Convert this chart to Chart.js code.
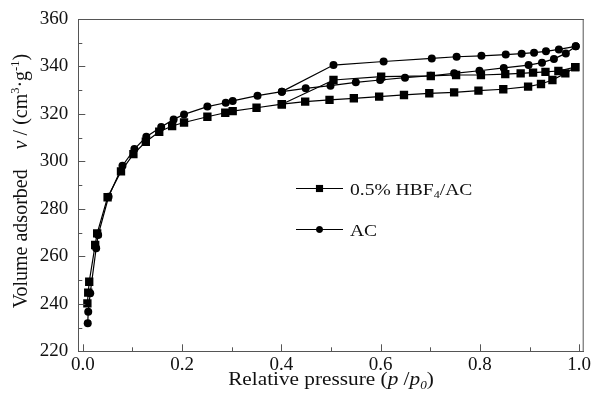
<!DOCTYPE html>
<html><head><meta charset="utf-8">
<script src="https://cdn.jsdelivr.net/npm/chart.js@4.4.1/dist/chart.umd.min.js"></script>
<style>html,body{margin:0;padding:0;background:#fff;}#wrap{width:594px;height:404px;}</style>
</head><body><div id="wrap"><canvas id="c" width="594" height="404"></canvas></div>
<script>
// ---- data ----
const hbfAdsP = [0.0093,0.011,0.013,0.025,0.029,0.050,0.077,0.102,0.127,0.154,0.180,0.204,0.251,0.287,0.302,0.350,0.401,0.448,0.497,0.546,0.597,0.647,0.698,0.748,0.797,0.847,0.897,0.923,0.946,0.972,0.992];
const hbfAdsV = [240.2,244.7,249.3,264.8,269.7,284.9,295.8,303.1,308.3,312.5,314.9,316.4,318.8,320.5,321.2,322.6,324.1,325.2,325.9,326.6,327.3,328.0,328.7,329.1,329.8,330.4,331.5,332.6,334.3,337.1,339.7];
const hbfDesP = [0.992,0.958,0.932,0.907,0.882,0.851,0.802,0.752,0.701,0.601,0.505,0.401];
const hbfDesV = [339.7,338.1,337.7,337.4,337.1,336.8,336.4,336.4,336.0,335.7,334.3,324.1];
const acAdsP = [0.010,0.011,0.015,0.027,0.031,0.052,0.080,0.104,0.128,0.158,0.183,0.204,0.251,0.288,0.302,0.352,0.401,0.449,0.499,0.550,0.599,0.649,0.701,0.748,0.799,0.848,0.898,0.925,0.949,0.973,0.993];
const acAdsV = [231.8,236.7,244.5,263.4,269.0,285.1,298.2,305.2,310.4,314.5,317.7,319.8,323.1,324.7,325.5,327.7,329.4,330.8,331.9,333.3,334.3,335.3,336.1,337.1,338.2,339.4,340.6,341.6,343.2,345.5,348.5];
const acDesP = [0.993,0.959,0.933,0.909,0.884,0.852,0.803,0.753,0.703,0.606,0.505,0.401];
const acDesV = [348.5,347.2,346.4,345.8,345.4,345.0,344.5,344.1,343.4,342.1,340.6,329.4];
const xTicks = [0.0,0.2,0.4,0.6,0.8,1.0];
const yTicks = [220,240,260,280,300,320,340,360];
const seriesNames = ['0.5% HBF4/AC','AC'];

const FONT = '"Liberation Serif","Times New Roman",serif';
const SX = 1.15;
function pts(p,v){return p.map((x,i)=>({x:x,y:v[i]}));}

function richWidth(ctx,segs,size){
  let t=0;
  segs.forEach(s=>{const fs=(s.sub||s.sup)?size*0.62:size;ctx.font=(s.it?'italic ':'')+fs+'px '+FONT;s._w=ctx.measureText(s.t).width;s._fs=fs;t+=s._w;});
  return t;
}
function drawRich(ctx,segs,size,x0,y0,align,sx,rot){
  const total=richWidth(ctx,segs,size);
  ctx.save();ctx.translate(x0,y0);if(rot)ctx.rotate(rot);ctx.scale(sx,1);
  ctx.textAlign='left';ctx.textBaseline='alphabetic';ctx.fillStyle='#111';
  let x=align==='center'?-total/2:0;
  segs.forEach(s=>{ctx.font=(s.it?'italic ':'')+s._fs+'px '+FONT;
    const dy=s.sub?size*0.22:(s.sup?-size*0.38:0);
    ctx.fillText(s.t,x,dy);x+=s._w;});
  ctx.restore();
}

const deco = {
  id:'deco',
  afterDraw(chart){
    const ctx=chart.ctx, a=chart.chartArea, xs=chart.scales.x, ys=chart.scales.y;
    ctx.save();
    ctx.strokeStyle='#555';ctx.lineWidth=1;
    ctx.beginPath();
    ctx.moveTo(a.left,a.top+0.5);ctx.lineTo(a.right,a.top+0.5);
    ctx.moveTo(a.right-0.5,a.top);ctx.lineTo(a.right-0.5,a.bottom);
    xTicks.forEach((v,i)=>{const px=Math.round(xs.getPixelForValue(v))+0.5;ctx.moveTo(px,a.bottom);ctx.lineTo(px,a.bottom-7);
      if(i<xTicks.length-1){const m=Math.round(xs.getPixelForValue((v+xTicks[i+1])/2))+0.5;ctx.moveTo(m,a.bottom);ctx.lineTo(m,a.bottom-4);}});
    yTicks.forEach((v,i)=>{const py=Math.round(ys.getPixelForValue(v))+0.5;ctx.moveTo(a.left,py);ctx.lineTo(a.left+7,py);
      if(i<yTicks.length-1){const m=Math.round(ys.getPixelForValue((v+yTicks[i+1])/2))+0.5;ctx.moveTo(a.left,m);ctx.lineTo(a.left+4,m);}});
    ctx.stroke();
    drawRich(ctx,[{t:'Relative pressure ('},{t:'p',it:true},{t:' /'},{t:'p',it:true},{t:'0',sub:true,it:true},{t:')'}],18.5,(a.left+a.right)/2,385,'center',SX,0);
    drawRich(ctx,[{t:'Volume adsorbed    '},{t:'v',it:true},{t:' / (cm'},{t:'3',sup:true},{t:'\u00b7g'},{t:'-1',sup:true},{t:')'}],20,27,(a.top+a.bottom)/2-4,'center',1,-Math.PI/2);
    const items=[{y:188.5,style:'rect',r:5,segs:[{t:'0.5% HBF'},{t:'4',sub:true},{t:'/AC'}]},{y:229.5,style:'circle',r:3.2,segs:[{t:'AC'}]}];
    items.forEach(it=>{
      ctx.strokeStyle='#000';ctx.lineWidth=1.2;ctx.beginPath();ctx.moveTo(296,it.y);ctx.lineTo(343,it.y);ctx.stroke();
      ctx.fillStyle='#000';Chart.helpers.drawPoint(ctx,{pointStyle:it.style,radius:it.r,borderWidth:0},319.5,it.y);ctx.fill();
      drawRich(ctx,it.segs,17,350,it.y+6,'left',SX,0);
    });
    ctx.restore();
  }
};

function ds(label,p1,v1,p2,v2,style,r){
  return {label:label,data:pts(p1,v1).concat(pts(p2,v2)),borderColor:'#000',backgroundColor:'#000',borderWidth:1.2,
    pointStyle:style,pointRadius:r,pointHoverRadius:r,pointBorderWidth:0,showLine:true,tension:0,fill:false};
}

new Chart(document.getElementById('c'),{
  type:'scatter',
  data:{datasets:[ds(seriesNames[0],hbfAdsP,hbfAdsV,hbfDesP,hbfDesV,'rect',5.9),ds(seriesNames[1],acAdsP,acAdsV,acDesP,acDesV,'circle',4)]},
  options:{
    responsive:false,animation:false,devicePixelRatio:1,
    layout:{padding:{left:0,right:10.3,top:19,bottom:0}},
    plugins:{legend:{display:false},tooltip:{enabled:false}},
    scales:{
      x:{type:'linear',min:-0.009,max:1.009,
        afterBuildTicks:s=>{s.ticks=xTicks.map(v=>({value:v}));},
        ticks:{callback:v=>Number(v).toFixed(1),font:{family:FONT,size:19},color:'#111',padding:2,maxRotation:0,autoSkip:false},
        grid:{display:false,drawTicks:false},border:{display:true,color:'#555',width:1},
        afterFit:s=>{s.height=52.7;s.paddingLeft=0;s.paddingRight=0;}},
      y:{type:'linear',min:220,max:360,
        afterBuildTicks:s=>{s.ticks=yTicks.map(v=>({value:v}));},
        ticks:{callback:v=>String(v),font:{family:FONT,size:19},color:'#111',padding:10,autoSkip:false},
        grid:{display:false,drawTicks:false},border:{display:true,color:'#555',width:1},
        afterFit:s=>{s.width=78.3;s.paddingTop=0;s.paddingBottom=0;}}
    }
  },
  plugins:[deco]
});
</script></body></html>
